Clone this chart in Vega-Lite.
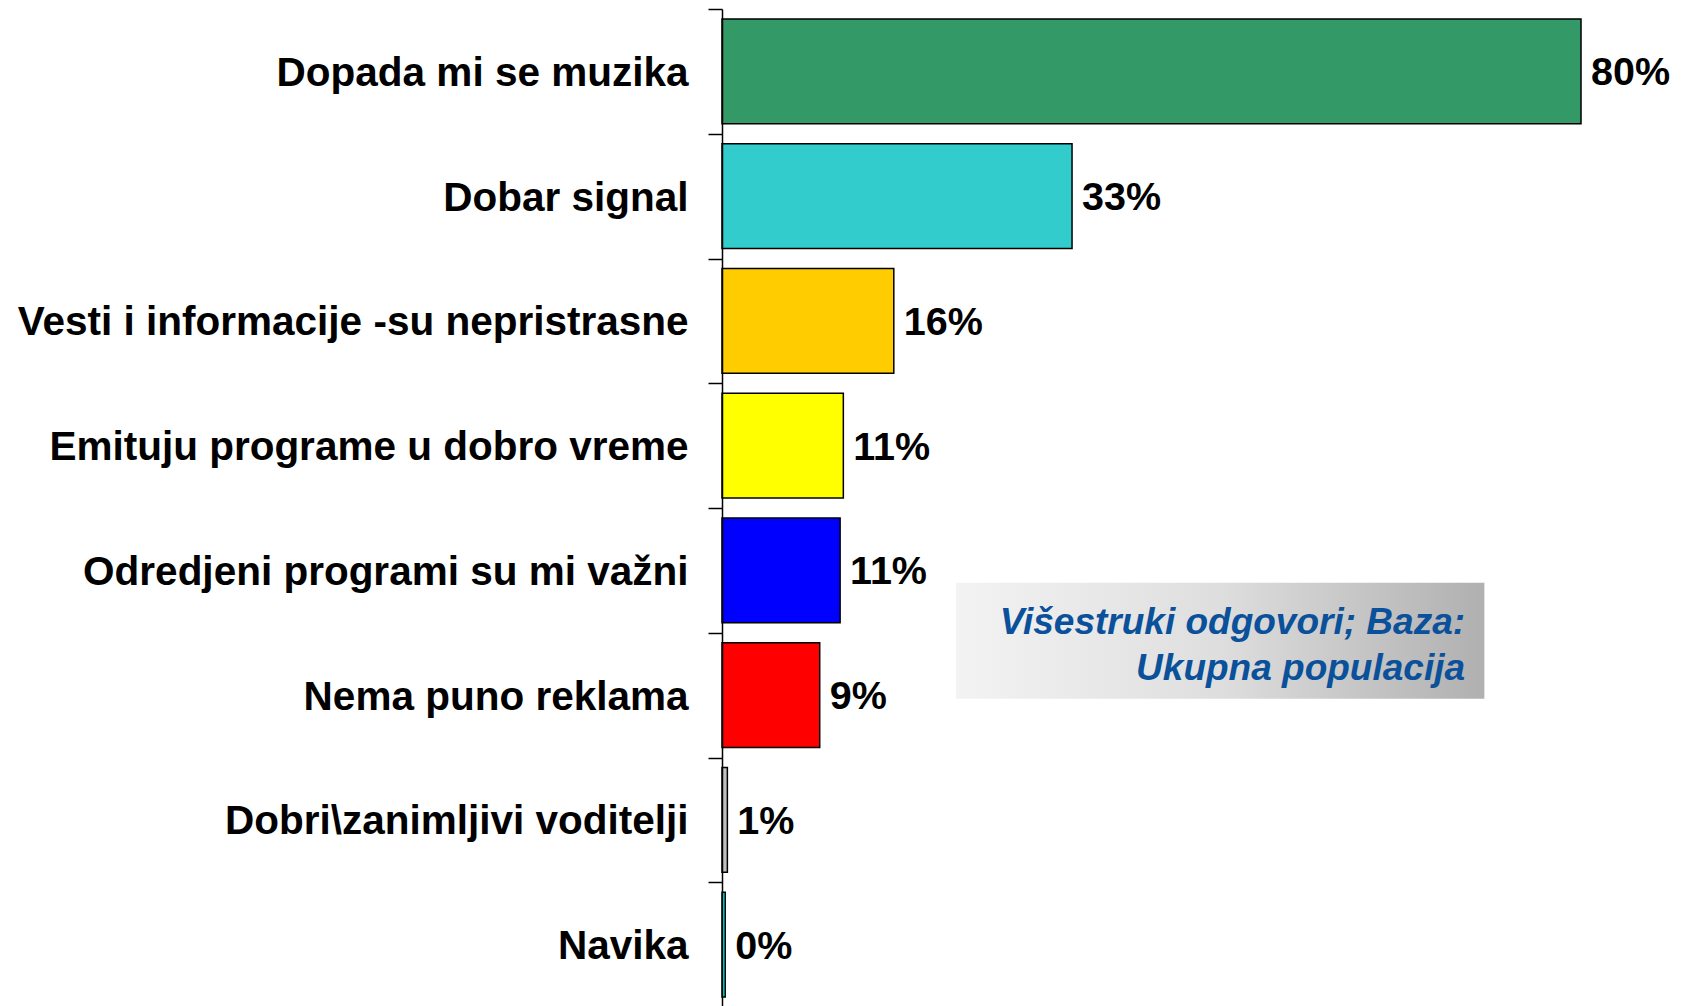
{
  "$schema": "https://vega.github.io/schema/vega-lite/v6.json",
  "width": 859,
  "height": 998,
  "autosize": "none",
  "padding": {"left": 722, "top": 9, "right": 103, "bottom": 0},
  "background": "white",
  "config": {"view": {"stroke": null}, "font": "Liberation Sans"},
  "datasets": {
    "bars": [
      {"cat": "Dopada mi se muzika", "value": 80.0, "label": "80%"},
      {"cat": "Dobar signal", "value": 32.6, "label": "33%"},
      {"cat": "Vesti i informacije -su nepristrasne", "value": 16.0, "label": "16%"},
      {"cat": "Emituju programe u dobro vreme", "value": 11.3, "label": "11%"},
      {"cat": "Odredjeni programi su mi važni", "value": 11.0, "label": "11%"},
      {"cat": "Nema puno reklama", "value": 9.1, "label": "9%"},
      {"cat": "Dobri\\zanimljivi voditelji", "value": 0.5, "label": "1%"},
      {"cat": "Navika", "value": 0.3, "label": "0%"}
    ],
    "note": [
      {"from": "Odredjeni programi su mi važni", "to": "Nema puno reklama", "x1": 21.8, "x2": 71.0, "xt": 69.2, "text": "Višestruki odgovori; Baza:\nUkupna populacija"}
    ]
  },
  "layer": [
    {
      "data": {"name": "note"},
      "mark": {
        "type": "rect",
        "fill": {"gradient": "linear", "x1": 0, "x2": 1, "y1": 0, "y2": 0,
          "stops": [{"offset": 0, "color": "#f3f3f3"}, {"offset": 0.5, "color": "#dedede"}, {"offset": 1, "color": "#b0b0b0"}]},
        "stroke": null
      },
      "encoding": {
        "x": {"field": "x1", "type": "quantitative", "scale": {"domain": [0, 80], "nice": false, "zero": true}, "axis": null},
        "x2": {"field": "x2"},
        "y": {"field": "from", "type": "nominal", "bandPosition": 0.6},
        "y2": {"field": "to", "bandPosition": 0.53}
      }
    },
    {
      "data": {"name": "note"},
      "mark": {"type": "text", "align": "right", "baseline": "middle", "fontSize": 37, "fontWeight": "bold", "fontStyle": "italic", "color": "#0A509A", "lineBreak": "\n", "lineHeight": 46},
      "encoding": {
        "x": {"field": "xt", "type": "quantitative"},
        "y": {"field": "from", "type": "nominal", "bandPosition": 0.925},
        "text": {"field": "text"}
      }
    },
    {
      "data": {"name": "bars"},
      "mark": {"type": "bar", "height": {"band": 0.84}, "stroke": "black", "strokeWidth": 1.5},
      "encoding": {
        "y": {
          "field": "cat", "type": "nominal", "sort": null,
          "scale": {"domain": ["Dopada mi se muzika", "Dobar signal", "Vesti i informacije -su nepristrasne", "Emituju programe u dobro vreme", "Odredjeni programi su mi važni", "Nema puno reklama", "Dobri\\zanimljivi voditelji", "Navika"], "paddingInner": 0, "paddingOuter": 0},
          "axis": {"title": null, "labelFontSize": 40.5, "labelFontWeight": "bold", "labelColor": "black", "labelPadding": 20, "labelOffset": 2, "labelLimit": 0, "tickSize": 14, "tickBand": "extent", "tickColor": "black", "tickWidth": 1.5, "domainColor": "black", "domainWidth": 1.5}
        },
        "x": {"field": "value", "type": "quantitative"},
        "color": {
          "field": "cat", "type": "nominal", "legend": null,
          "scale": {"domain": ["Dopada mi se muzika", "Dobar signal", "Vesti i informacije -su nepristrasne", "Emituju programe u dobro vreme", "Odredjeni programi su mi važni", "Nema puno reklama", "Dobri\\zanimljivi voditelji", "Navika"],
            "range": ["#339966", "#33CCCC", "#FFCC00", "#FFFF00", "#0000FF", "#FF0000", "#C0C0C0", "#00FFFF"]}
        }
      }
    },
    {
      "data": {"name": "bars"},
      "mark": {"type": "text", "align": "left", "baseline": "middle", "dx": 10, "dy": 2, "fontSize": 39.5, "fontWeight": "bold", "color": "black"},
      "encoding": {
        "y": {"field": "cat", "type": "nominal"},
        "x": {"field": "value", "type": "quantitative"},
        "text": {"field": "label"}
      }
    }
  ]
}
